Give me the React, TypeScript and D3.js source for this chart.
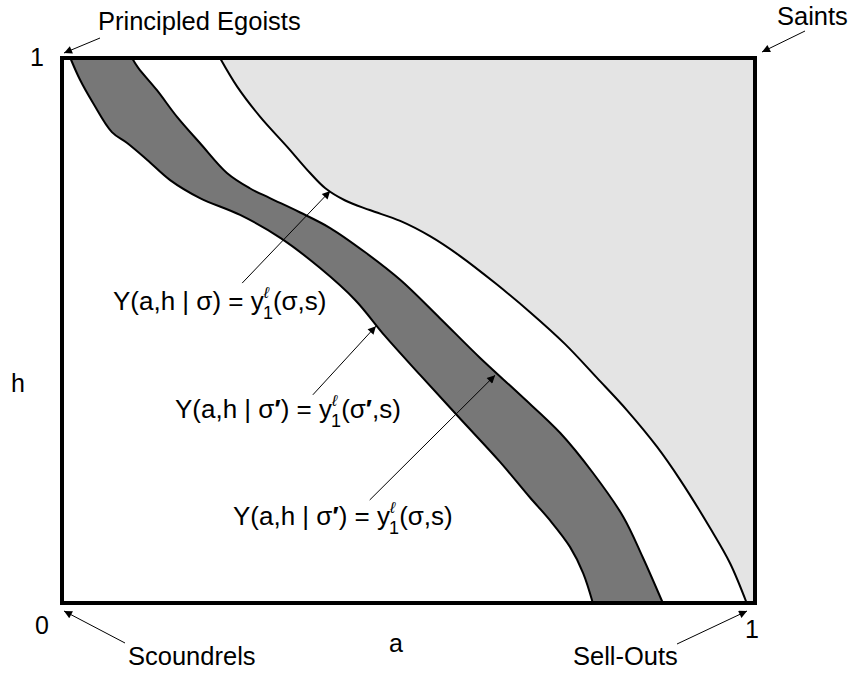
import React from "react";
import * as d3 from "d3";

// Threshold curves in (a, h) space, a = altruism, h = honesty; each point is [a, h].
const darkLower: [number, number][] = [
  [0.012, 1.0], [0.026, 0.96], [0.045, 0.917], [0.072, 0.864], [0.094, 0.844],
  [0.123, 0.813], [0.156, 0.776], [0.199, 0.743], [0.257, 0.712], [0.315, 0.67],
  [0.372, 0.615], [0.423, 0.556], [0.466, 0.49], [0.517, 0.418], [0.574, 0.339],
  [0.632, 0.259], [0.675, 0.194], [0.704, 0.152], [0.733, 0.103], [0.752, 0.055],
  [0.766, 0.0],
];
const darkUpper: [number, number][] = [
  [0.101, 1.0], [0.11, 0.982], [0.137, 0.941], [0.166, 0.892], [0.199, 0.844],
  [0.238, 0.789], [0.271, 0.761], [0.3, 0.743], [0.343, 0.717], [0.387, 0.688],
  [0.437, 0.644], [0.488, 0.593], [0.545, 0.523], [0.603, 0.45], [0.661, 0.382],
  [0.719, 0.312], [0.766, 0.239], [0.81, 0.158], [0.838, 0.084], [0.867, 0.0],
];
const lightCurve: [number, number][] = [
  [0.228, 1.0], [0.253, 0.947], [0.286, 0.892], [0.325, 0.837], [0.358, 0.789],
  [0.38, 0.761], [0.408, 0.739], [0.444, 0.721], [0.488, 0.701], [0.531, 0.673],
  [0.574, 0.637], [0.625, 0.587], [0.675, 0.534], [0.726, 0.475], [0.772, 0.413],
  [0.815, 0.354], [0.859, 0.286], [0.892, 0.226], [0.935, 0.138], [0.964, 0.073],
  [0.988, 0.0],
];

// Leader arrows for the three curve labels: [tail, tip] in (a, h).
const labelArrows: [[number, number], [number, number]][] = [
  [[0.26, 0.587], [0.387, 0.756]],
  [[0.362, 0.382], [0.453, 0.508]],
  [[0.444, 0.189], [0.625, 0.418]],
];

const tickLabels = { zero: "0", one: "1" };
const cornerNames = ["Principled Egoists", "Saints", "Scoundrels", "Sell-Outs"];

const W = 853;
const H = 677;
const FONT = "'Liberation Sans', Arial, Helvetica, sans-serif";

export default function App() {
  const x = d3.scaleLinear().domain([0, 1]).range([62, 755]);
  const y = d3.scaleLinear().domain([0, 1]).range([603, 58]);

  const line = d3
    .line<[number, number]>()
    .x((d) => x(d[0]))
    .y((d) => y(d[1]))
    .curve(d3.curveCatmullRom.alpha(0.5));

  const lightArea =
    line(lightCurve)! + `L${x(1)},${y(0)}L${x(1)},${y(1)}Z`;
  const bandArea =
    line(darkLower)! +
    "L" +
    line([...darkUpper].reverse())!.slice(1) +
    "Z";

  // "Y(a,h | σ) = y" with a stacked ℓ superscript and 1 subscript
  const formula = (prime: boolean, argPrime: boolean) => (
    <>
      {"Y(a,h | σ"}
      {prime && <tspan fontWeight="bold">{"′"}</tspan>}
      {") = y"}
      <tspan fontSize={16} dy={-12} fontStyle="italic">
        {"ℓ"}
      </tspan>
      <tspan fontSize={18} dx={-6} dy={21}>
        {"1"}
      </tspan>
      <tspan dy={-9}>{"(σ"}</tspan>
      {argPrime && <tspan fontWeight="bold">{"′"}</tspan>}
      {",s)"}
    </>
  );

  return (
    <svg
      width={W}
      height={H}
      style={{ position: "absolute", left: 0, top: 0, background: "#fff" }}
      fontFamily={FONT}
    >
      <defs>
        <marker
          id="head"
          viewBox="0 0 10 10"
          refX={10}
          refY={5}
          markerWidth={12}
          markerHeight={8}
          markerUnits="userSpaceOnUse"
          orient="auto"
        >
          <path d="M0,0 L10,5 L0,10 Z" fill="#000" />
        </marker>
      </defs>

      {/* regions */}
      <path d={lightArea} fill="#e4e4e4" stroke="none" />
      <path d={bandArea} fill="#777777" stroke="none" />
      <path d={line(lightCurve)!} fill="none" stroke="#000" strokeWidth={2} />
      <path d={line(darkLower)!} fill="none" stroke="#000" strokeWidth={2} />
      <path d={line(darkUpper)!} fill="none" stroke="#000" strokeWidth={2} />

      {/* frame */}
      <rect
        x={x(0)}
        y={y(1)}
        width={x(1) - x(0)}
        height={y(0) - y(1)}
        fill="none"
        stroke="#000"
        strokeWidth={4}
      />

      {/* axis labels */}
      <g fontSize={25} fill="#000">
        <text x={37} y={66} textAnchor="middle">{tickLabels.one}</text>
        <text x={42} y={634} textAnchor="middle">{tickLabels.zero}</text>
        <text x={752} y={638} textAnchor="middle">{tickLabels.one}</text>
        <text x={18} y={392} textAnchor="middle">h</text>
        <text x={396} y={652} textAnchor="middle">a</text>
      </g>

      {/* corner names with arrows */}
      <g fontSize={25.5} fill="#000">
        <text x={98} y={30}>{cornerNames[0]}</text>
        <text x={777} y={25}>{cornerNames[1]}</text>
        <text x={128} y={665}>{cornerNames[2]}</text>
        <text x={573} y={665}>{cornerNames[3]}</text>
      </g>
      <g stroke="#000" strokeWidth={1}>
        <line x1={100} y1={38} x2={64} y2={53} markerEnd="url(#head)" />
        <line x1={805} y1={31} x2={762} y2={52} markerEnd="url(#head)" />
        <line x1={125} y1={643} x2={64} y2={611} markerEnd="url(#head)" />
        <line x1={677} y1={644} x2={747} y2={611} markerEnd="url(#head)" />
      </g>

      {/* curve labels */}
      <g stroke="#000" strokeWidth={1}>
        {labelArrows.map(([t, h], i) => (
          <line
            key={i}
            x1={x(t[0])}
            y1={y(t[1])}
            x2={x(h[0])}
            y2={y(h[1])}
            markerEnd="url(#head)"
          />
        ))}
      </g>
      <g fontSize={26} fill="#000">
        <text x={113} y={310}>{formula(false, false)}</text>
        <text x={175} y={418}>{formula(true, true)}</text>
        <text x={233} y={525}>{formula(true, false)}</text>
      </g>
    </svg>
  );
}
